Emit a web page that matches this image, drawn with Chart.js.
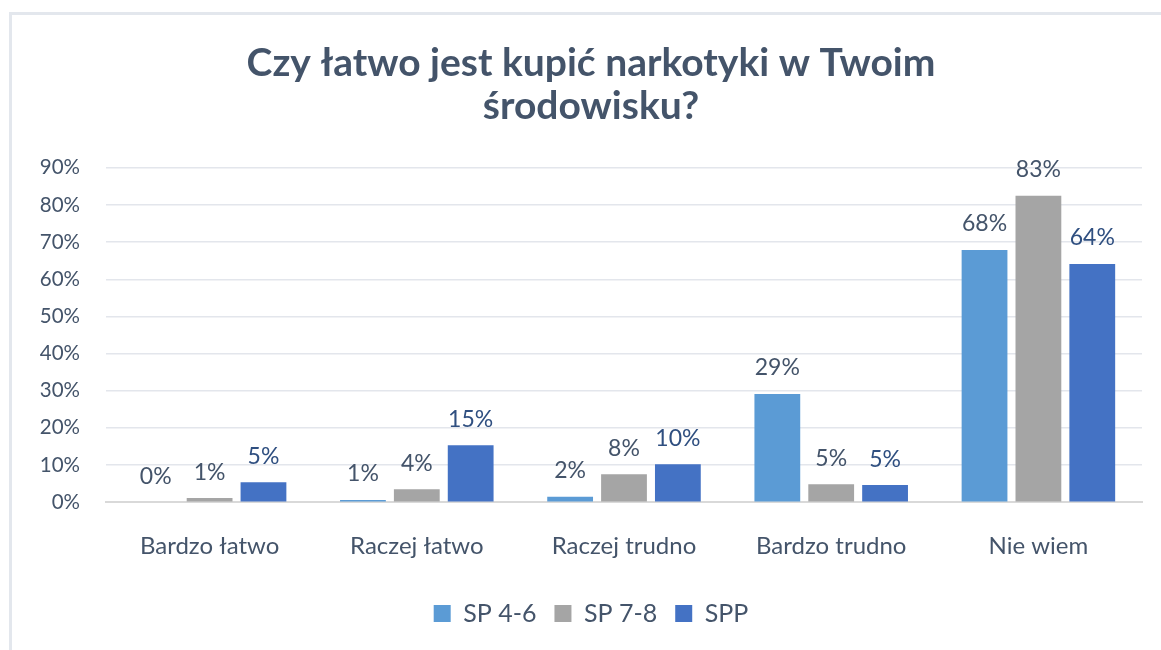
<!DOCTYPE html>
<html>
<head>
<meta charset="utf-8">
<script src="https://cdn.jsdelivr.net/npm/chart.js@4"></script>
<style>
  html, body { margin: 0; padding: 0; background: #ffffff; }
  #wrap { width: 1161px; height: 650px; position: relative; }
</style>
</head>
<body>
<div id="wrap"><canvas id="chart" width="1161" height="650"></canvas></div>
<script>
const categories = ['Bardzo łatwo', 'Raczej łatwo', 'Raczej trudno', 'Bardzo trudno', 'Nie wiem'];
const sp46 = [0, 0.6, 1.5, 29.1, 67.9];
const sp78 = [1.1, 3.5, 7.5, 4.8, 82.5];
const spp = [5.4, 15.3, 10.2, 4.6, 64.1];
const yTicks = [0, 10, 20, 30, 40, 50, 60, 70, 80, 90];

const TEXT = '#44546A';
const FONT = 'Lato, "Open Sans", sans-serif';

// light frame around the whole chart
const framePlugin = {
    id: 'frame',
    beforeDraw(chart) {
        const ctx = chart.ctx;
        ctx.save();
        ctx.strokeStyle = '#E3E7ED';
        ctx.lineWidth = 3;
        ctx.strokeRect(10.5, 13.5, 1300, 800);
        ctx.restore();
    }
};

// value labels above the bars
const valueLabels = {
    id: 'valueLabels',
    afterDatasetsDraw(chart) {
        const ctx = chart.ctx;
        ctx.save();
        ctx.font = '23px ' + FONT;
        ctx.textAlign = 'center';
        ctx.textBaseline = 'middle';
        chart.data.datasets.forEach((ds, i) => {
            const meta = chart.getDatasetMeta(i);
            ctx.fillStyle = ds.labelColor;
            meta.data.forEach((bar, j) => {
                ctx.fillText(Math.round(ds.data[j]) + '%', bar.x, bar.y - 26);
            });
        });
        ctx.restore();
    }
};

const chart = new Chart(document.getElementById('chart').getContext('2d'), {
    type: 'bar',
    data: {
        labels: categories,
        datasets: [
            { label: 'SP 4-6', data: sp46, backgroundColor: '#5B9BD5', labelColor: TEXT },
            { label: 'SP 7-8', data: sp78, backgroundColor: '#A5A5A5', labelColor: TEXT },
            { label: 'SPP', data: spp, backgroundColor: '#4472C4', labelColor: '#2F4F80' }
        ]
    },
    options: {
        responsive: false,
        animation: false,
        categoryPercentage: 0.78,
        barPercentage: 0.85,
        layout: {
            padding: { left: 40, right: 19, top: 42, bottom: 14 }
        },
        scales: {
            x: {
                grid: { display: false },
                border: { display: true, color: '#D9D9D9', width: 2 },
                ticks: {
                    color: TEXT,
                    font: { family: FONT, size: 24 },
                    padding: 22
                }
            },
            y: {
                min: 0,
                max: 90,
                afterBuildTicks: (axis) => { axis.ticks = yTicks.map(v => ({ value: v })); },
                afterFit: (axis) => { axis.width = 66; },
                grid: { color: '#E3E6EC', lineWidth: 1.5, drawTicks: false },
                border: { display: false },
                ticks: {
                    color: TEXT,
                    font: { family: FONT, size: 20.5 },
                    padding: 26,
                    callback: (v) => v + '%'
                }
            }
        },
        plugins: {
            tooltip: { enabled: false },
            title: {
                display: true,
                text: ['Czy łatwo jest kupić narkotyki w Twoim', 'środowisku?'],
                color: TEXT,
                font: { family: FONT, size: 39, weight: 'bold', lineHeight: 1.1 },
                padding: { top: 0, bottom: 40 }
            },
            legend: {
                position: 'bottom',
                labels: {
                    color: TEXT,
                    font: { family: FONT, size: 25 },
                    boxWidth: 17,
                    boxHeight: 17,
                    padding: 18
                }
            }
        }
    },
    plugins: [framePlugin, valueLabels]
});
</script>
</body>
</html>
